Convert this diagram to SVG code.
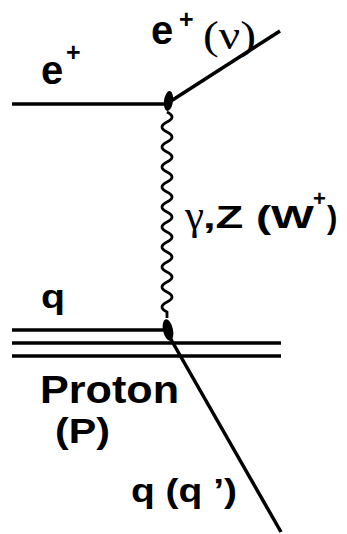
<svg xmlns="http://www.w3.org/2000/svg" width="347" height="534" viewBox="0 0 347 534">
  <style>
    .ln { stroke: #000; stroke-width: 3.5; fill: none; stroke-linecap: butt; }
    .wave { stroke: #000; stroke-width: 2.8; fill: none; }
    .sans { font-family: "Liberation Sans", Arial, sans-serif; font-weight: bold; fill: #000; }
    .serif { font-family: "Liberation Serif", "Times New Roman", serif; fill: #000; }
    .blob { fill: #000; }
  </style>
  <rect width="347" height="534" fill="#fff"/>
  <g id="connectors">
    <line class="ln" x1="12" y1="104" x2="167" y2="104"/>
    <line class="ln" x1="171" y1="101" x2="280" y2="31"/>
    <path class="wave" d="M167,112 q10,5 0,10 t0,10 t0,10 t0,10 t0,10 t0,10 t0,10 t0,10 t0,10 t0,10 t0,10 t0,10 t0,10 t0,10 t0,10 t0,10 t0,10 t0,10 t0,10 t0,10 l0,6"/>
    <line class="ln" x1="12" y1="330" x2="168" y2="330"/>
    <line class="ln" x1="12" y1="343" x2="281" y2="343"/>
    <line class="ln" x1="12" y1="356" x2="281" y2="356"/>
    <line class="ln" x1="169" y1="336" x2="281" y2="532"/>
  </g>
  <g id="vertex-top">
    <ellipse class="blob" cx="168.5" cy="101" rx="4.5" ry="10" transform="rotate(8 168.5 101)"/>
  </g>
  <g id="vertex-bottom">
    <ellipse class="blob" cx="168" cy="330" rx="5" ry="11" transform="rotate(-12 168 330)"/>
  </g>
  <g id="label-e-in">
    <text class="sans" x="41" y="84" font-size="40">e</text>
    <text class="sans" x="66" y="60.5" font-size="25">+</text>
  </g>
  <g id="label-e-out">
    <text class="sans" x="151" y="44" font-size="40">e</text>
    <text class="sans" x="179" y="27.5" font-size="25">+</text>
    <text class="serif" x="203" y="49" font-size="40" textLength="53" lengthAdjust="spacingAndGlyphs">(ν)</text>
  </g>
  <g id="label-boson">
    <text class="serif" x="185" y="229" font-size="40" textLength="19" lengthAdjust="spacingAndGlyphs">γ</text>
    <text class="sans" x="203" y="228" font-size="31" textLength="111" lengthAdjust="spacingAndGlyphs">,Z (W</text>
    <text class="sans" x="313" y="206" font-size="22">+</text>
    <text class="sans" x="327" y="228" font-size="31">)</text>
  </g>
  <g id="label-q-in">
    <text class="sans" x="41" y="308" font-size="34" textLength="24" lengthAdjust="spacingAndGlyphs">q</text>
  </g>
  <g id="label-proton">
    <text class="sans" x="40" y="403" font-size="38" textLength="139" lengthAdjust="spacingAndGlyphs">Proton</text>
    <text class="sans" x="55" y="443" font-size="35" textLength="55" lengthAdjust="spacingAndGlyphs">(P)</text>
  </g>
  <g id="label-q-out">
    <text class="sans" x="131" y="502" font-size="34" textLength="106" lengthAdjust="spacingAndGlyphs">q (q ’)</text>
  </g>
</svg>
